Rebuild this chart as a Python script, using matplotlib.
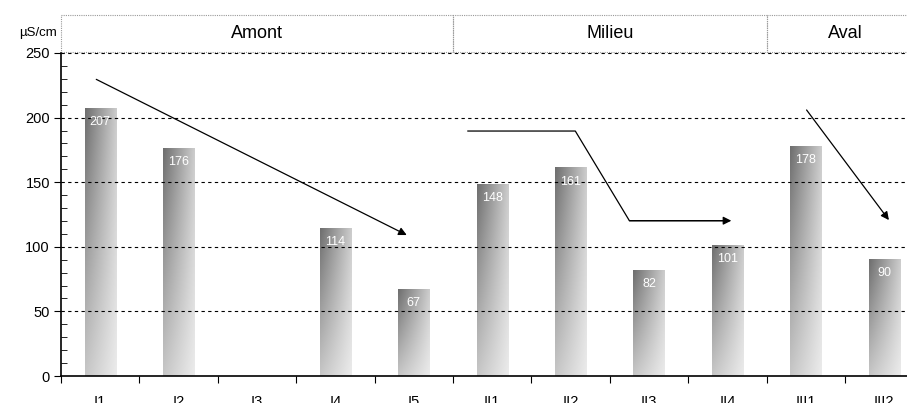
import numpy as np
import matplotlib
matplotlib.use("Agg")
import matplotlib.pyplot as plt
from matplotlib.patches import Rectangle
from matplotlib.transforms import blended_transform_factory

plt.rcParams['font.family'] = ['Liberation Sans', 'DejaVu Sans']

# données
stations = ["I1", "I2", "I3", "I4", "I5", "II1", "II2", "II3", "II4", "III1", "III2"]
conductivite = [207, 176, np.nan, 114, 67, 148, 161, 82, 101, 178, 90]
zones = ["Amont", "Milieu", "Aval"]
zone_taille = [5, 4, 2]

# flèches de tendance (coordonnées données)
fleche1 = [(-0.05, 229.6), (3.91, 109.1)]
fleche2 = [(4.69, 189.6), (6.06, 189.6), (6.75, 120.2), (8.05, 120.2)]
fleche3 = [(9.01, 205.9), (10.06, 120.7)]

W, H = 907, 403
fig = plt.figure(figsize=(W / 100, H / 100), dpi=100)
x0, y_bas, y_haut, pas = 61, 376, 53, 78.4
ax = fig.add_axes([x0 / W, (H - y_bas) / H, len(stations) * pas / W, (y_bas - y_haut) / H])

x = np.arange(len(stations))
largeur = 0.40

# barres en dégradé
u = np.linspace(0, 1, 60)[None, :]
t = np.linspace(1, 0, 120)[:, None]
d = 0.57 * (1 - 0.65 * u) * (1 - 0.61 * (1 - t))
grad = 1 - d
for xi, v in zip(x, conductivite):
    if np.isnan(v):
        continue
    ax.imshow(grad, cmap='gray', vmin=0, vmax=1, aspect='auto', interpolation='bicubic',
              extent=[xi - largeur / 2, xi + largeur / 2, 0, v], zorder=2)
    ax.text(xi, v - 10.5, f"{int(v)}", color='white', ha='center', va='center',
            fontsize=9, zorder=4)

ax.set_xlim(-0.5, len(stations) - 0.5)
ax.set_ylim(0, 250)

# grille
for g in range(50, 251, 50):
    ax.axhline(g, color='black', linestyle=(0, (3, 3)), linewidth=0.8, zorder=3)

ax.spines['top'].set_visible(False)
ax.spines['right'].set_visible(False)
ax.spines['left'].set_linewidth(1.2)
ax.spines['bottom'].set_linewidth(1.2)

ax.set_yticks(range(0, 251, 50))
ax.set_yticks(range(0, 251, 10), minor=True)
ax.tick_params(axis='y', which='major', direction='out', length=5, labelsize=10.5, pad=3)
ax.tick_params(axis='y', which='minor', direction='in', length=4)

ax.set_xticks(np.arange(-0.5, len(stations), 1))
ax.set_xticklabels([])
ax.set_xticks(x, minor=True)
ax.set_xticklabels(stations, minor=True)
ax.tick_params(axis='x', which='major', direction='out', length=5)
ax.tick_params(axis='x', which='minor', length=0, labelsize=10.5, pad=14)

# bandeau des zones
tr = blended_transform_factory(ax.transData, ax.transAxes)
debut = -0.5
for nom, n in zip(zones, zone_taille):
    ax.add_patch(Rectangle((debut, 1.003), n, 0.115, transform=tr, fill=False,
                           edgecolor='#999999', linestyle=(0, (1, 1)), linewidth=0.8,
                           clip_on=False))
    ax.text(debut + n / 2, 1.06, nom, transform=tr, ha='center', va='center', fontsize=13)
    debut += n

fig.text(57 / W, 1 - 33 / H, "µS/cm", ha='right', va='center', fontsize=9.5)

# flèches
fl = dict(arrowstyle='-|>', color='black', lw=0.9, mutation_scale=12, shrinkA=0, shrinkB=0)
ax.annotate("", xy=fleche1[1], xytext=fleche1[0], arrowprops=fl, zorder=5, annotation_clip=False)
px, py = zip(*fleche2[:-1])
ax.plot(list(px) + [fleche2[-1][0] - 0.1], list(py) + [fleche2[-1][1]], color='black', lw=0.9, zorder=5)
ax.annotate("", xy=fleche2[-1], xytext=fleche2[-2], arrowprops=fl, zorder=5)
ax.annotate("", xy=fleche3[1], xytext=fleche3[0], arrowprops=fl, zorder=5)

fig.savefig("out.png", dpi=100)
